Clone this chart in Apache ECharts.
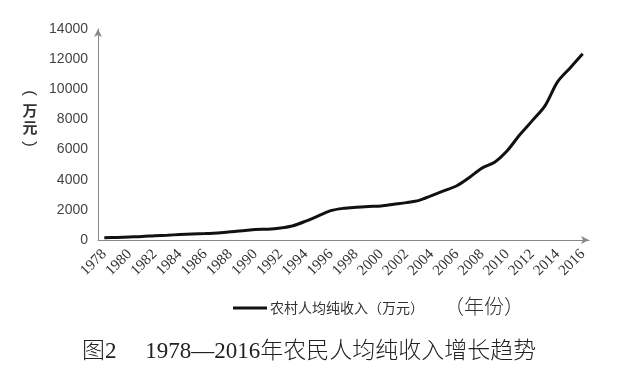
<!DOCTYPE html>
<html>
<head>
<meta charset="utf-8">
<script src="https://cdn.jsdelivr.net/npm/echarts@6/dist/echarts.min.js"></script>
<style>html,body{margin:0;padding:0;background:#fff;}#c{width:635px;height:383px;}</style>
</head>
<body>
<div id="c"></div>
<script>
const years = ['1978','1979','1980','1981','1982','1983','1984','1985','1986','1987','1988','1989','1990','1991','1992','1993','1994','1995','1996','1997','1998','1999','2000','2001','2002','2003','2004','2005','2006','2007','2008','2009','2010','2011','2012','2013','2014','2015','2016'];
const income = [150,170,200,230,280,320,360,400,430,470,540,610,700,720,800,950,1250,1600,1950,2100,2170,2220,2260,2370,2480,2630,2950,3270,3600,4150,4770,5160,5920,6980,7920,8900,10490,11420,12360];
const yTicks = [0,2000,4000,6000,8000,10000,12000,14000];
const seriesName = '农村人均纯收入（万元）';
const yNameChars = ['(','万','元',')'];
const xName = '（年份）';
const caption = '图2　 1978—2016年农民人均纯收入增长趋势';

const yNamePos = [93, 110, 127, 144];
const yNameGraphics = yNameChars.map((ch, i) => {
  const paren = (ch === '(' || ch === ')');
  return {
    type:'text', x:30, y:yNamePos[i],
    rotation: paren ? -Math.PI/2 : 0,
    style:{text:ch, fontSize: paren ? 17 : 15, fill:'#333', fontWeight: paren ? 'normal' : 'bold',
      fontFamily: paren ? 'Liberation Sans' : '"Noto Sans CJK SC"', align:'center', verticalAlign:'middle'}
  };
});

const chart = echarts.init(document.getElementById('c'), null, {renderer:'canvas'});
chart.setOption({
  backgroundColor:'#fff',
  animation:false,
  grid:{left:98, right:46, top:29, bottom:143},
  title:{
    text:caption, left:82, top:340, padding:0,
    textStyle:{fontSize:23, fontWeight:300, color:'#222', fontFamily:'Liberation Serif, "Noto Sans CJK SC"'}
  },
  legend:{
    data:[seriesName], left:228, top:296, icon:'rect', itemWidth:34, itemHeight:3, itemGap:4,
    textStyle:{fontSize:14, color:'#333', fontFamily:'"Noto Sans CJK SC"', padding:[0,0,0,-2]}
  },
  graphic:yNameGraphics.concat([
    {type:'text', left:444, top:296, style:{text:xName, fontSize:20, fill:'#333', fontWeight:300, fontFamily:'"Noto Sans CJK SC"'}}
  ]),
  xAxis:{
    type:'category', data:years, boundaryGap:true,
    axisLine:{show:true, symbol:['none','arrow'], symbolSize:[6,8], lineStyle:{color:'#888', width:1}},
    axisTick:{show:false},
    axisLabel:{interval:1, rotate:45, margin:12, fontSize:15, color:'#333', fontFamily:'Liberation Serif'},
    splitLine:{show:false}
  },
  yAxis:{
    type:'value', min:yTicks[0], max:yTicks[yTicks.length-1], interval:2000,
    axisLine:{show:true, symbol:['none','arrow'], symbolSize:[6,8], lineStyle:{color:'#888', width:1}},
    axisTick:{show:false},
    axisLabel:{margin:10, fontSize:14, color:'#444', fontFamily:'Liberation Sans', formatter:(v) => String(v)},
    splitLine:{show:false}
  },
  series:[{
    name:seriesName, type:'line', data:income, smooth:0.3, showSymbol:false,
    lineStyle:{color:'#111', width:3}, itemStyle:{color:'#111'}
  }]
});
</script>
</body>
</html>
